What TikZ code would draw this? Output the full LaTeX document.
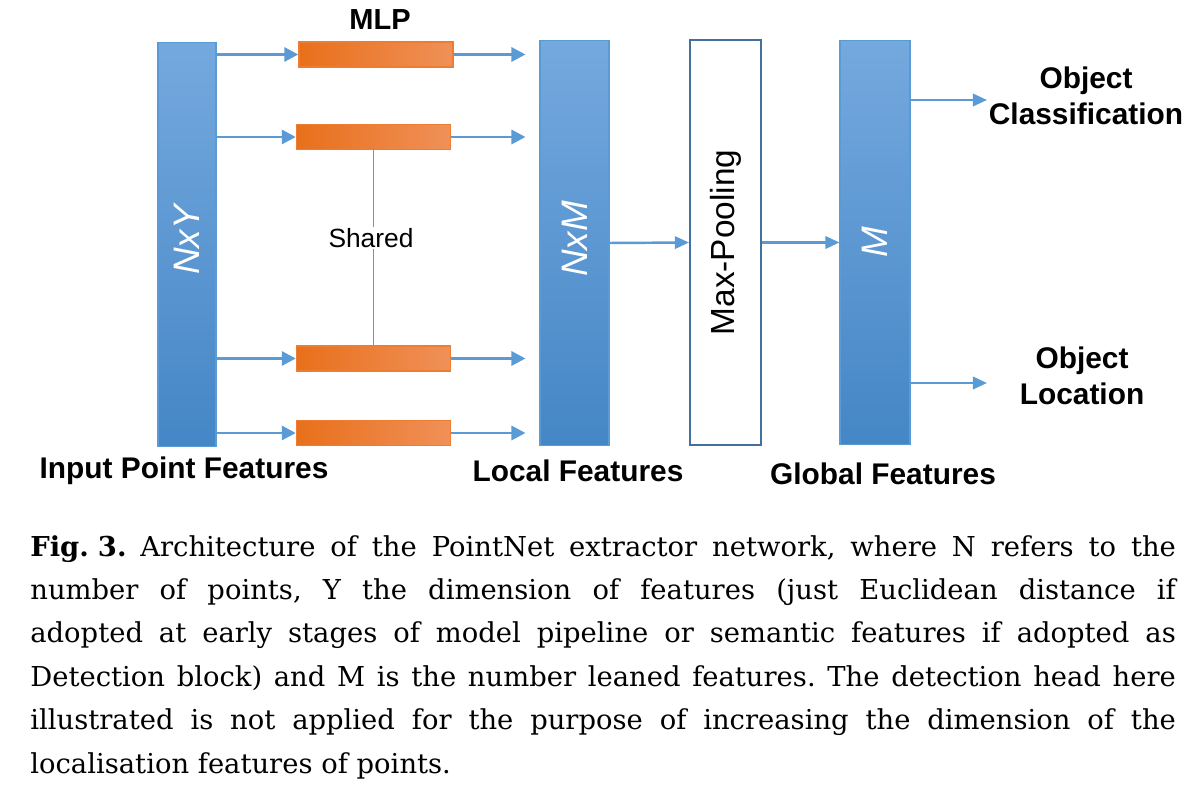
\documentclass[tikz,border=0pt]{standalone}
\usepackage{fontspec}
\setmainfont{DejaVu Serif}
\newfontfamily\arial{Liberation Sans}
\usetikzlibrary{arrows.meta}
\definecolor{bluel}{HTML}{74A9DE}
\definecolor{blued}{HTML}{4586C6}
\definecolor{blueline}{HTML}{5B9BD5}
\definecolor{bluebord}{HTML}{41719C}
\definecolor{orl}{HTML}{E8701B}
\definecolor{orm}{HTML}{F5842C}
\definecolor{orr}{HTML}{F09058}
\definecolor{orbord}{HTML}{ED7D31}
\tikzset{
  bluebar/.style={draw=blueline, line width=0.6pt, top color=bluel, bottom color=blued, inner sep=0pt},
  mlpbox/.style={draw=orbord, line width=0.8pt, left color=orl, middle color=orm, right color=orr, minimum width=3.08cm, minimum height=0.5cm, inner sep=0pt},
  arr/.style={draw=blueline, line width=1.7pt, -{Triangle[length=8pt,width=8pt]}},
  arrthin/.style={draw=blueline, line width=1.4pt, -{Triangle[length=8pt,width=7pt]}},
  lbl/.style={font=\arial\bfseries\fontsize{17}{20.4}\selectfont, align=center, inner sep=0pt},
  barlbl/.style={font=\arial\itshape\fontsize{21}{24}\selectfont, text=white, rotate=90, inner sep=0pt},
}
\begin{document}
\begin{tikzpicture}[x=0.02cm, y=-0.02cm]
\useasboundingbox (0,0) rectangle (1199,793);

% bars
\node[bluebar, minimum width=1.16cm, minimum height=8.1cm] (inp) at (187,244.5) {};
\node[bluebar, minimum width=1.38cm, minimum height=8.12cm] (loc) at (574.5,243) {};
\node[draw=bluebord, line width=1.2pt, fill=white, minimum width=1.42cm, minimum height=8.1cm, inner sep=0pt] (mp) at (725.5,242.5) {};
\node[bluebar, minimum width=1.4cm, minimum height=8.1cm] (glob) at (875,242.5) {};

\node[barlbl] (tinp) at (187,240) {NxY};
\node[barlbl] (tloc) at (574.5,239) {NxM};
\node[font=\arial\fontsize{19}{22}\selectfont, rotate=90, inner sep=0pt] (tmp) at (725.5,242.5) {Max-Pooling};
\node[barlbl] (tglob) at (875,242) {M};

% MLP boxes
\node[mlpbox] (m1) at (376,54.5) {};
\node[mlpbox] (m2) at (373.5,137) {};
\node[mlpbox] (m3) at (373.5,358.5) {};
\node[mlpbox] (m4) at (373.5,433) {};

% shared line
\draw[blueline, line width=1pt] (m2.south) -- (m3.north);
\node[fill=white, font=\arial\fontsize{15}{18}\selectfont, inner sep=1pt] (sh) at (371,238) {Shared};

% arrows input -> mlp
\draw[arr] (inp.east |- m1) -- (m1.west);
\draw[arr] (inp.east |- m2) -- (m2.west);
\draw[arr] (inp.east |- m3) -- (m3.west);
\draw[arr] (inp.east |- m4) -- (m4.west);
% arrows mlp -> local
\draw[arr, shorten >=0.28cm] (m1.east) -- (loc.west |- m1);
\draw[arr, shorten >=0.28cm] (m2.east) -- (loc.west |- m2);
\draw[arr, shorten >=0.28cm] (m3.east) -- (loc.west |- m3);
\draw[arr, shorten >=0.28cm] (m4.east) -- (loc.west |- m4);
% local -> maxpool -> global
\draw[arrthin] (loc.east) -- (mp.west);
\draw[arrthin] (mp.east) -- (glob.west);
% outputs
\coordinate (c1) at (987,100);
\coordinate (c2) at (987,383);
\draw[arrthin] (glob.east |- c1) -- (c1);
\draw[arrthin] (glob.east |- c2) -- (c2);

% labels
\node[lbl, font=\arial\bfseries\fontsize{16.5}{20}\selectfont] (tmlp) at (380,20) {MLP};
\node[lbl] (tcls) at (1086,96) {Object\\Classification};
\node[lbl] (tloca) at (1082,376) {Object\\Location};
\node[lbl] (tin) at (184,471) {Input Point Features};
\node[lbl] (tlf) at (578,471) {Local Features};
\node[lbl] (tgf) at (883,474) {Global Features};

% caption
\node[anchor=north west, text width=652pt, inner sep=0pt, align=justify,
      font=\fontsize{15.6}{24.7}\selectfont\frenchspacing] (cap) at (30,535) {%
\textbf{Fig.\nobreak\hspace{0.33em}3.}\nobreak\hspace{0.5em}Architecture of the PointNet extractor network, where N refers to the\linebreak
number of points, Y the dimension of features (just Euclidean distance if\linebreak
adopted at early stages of model pipeline or semantic features if adopted as\linebreak
Detection block) and M is the number leaned features. The detection head here\linebreak
illustrated is not applied for the purpose of increasing the dimension of the\linebreak
localisation features of points.};
\end{tikzpicture}
\end{document}
